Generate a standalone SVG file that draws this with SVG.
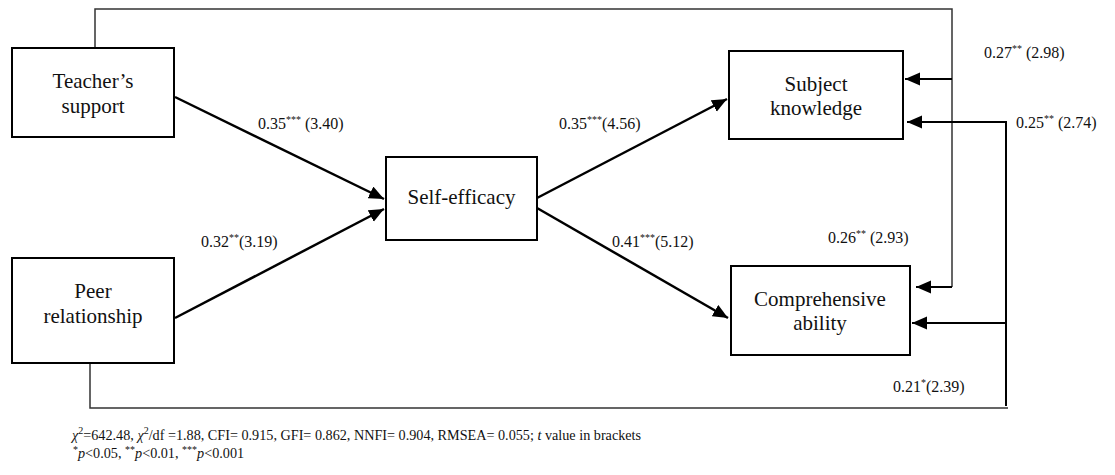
<svg xmlns="http://www.w3.org/2000/svg" width="1115" height="475" viewBox="0 0 1115 475">
<style>
text{font-family:'Liberation Serif','Times New Roman',serif;fill:#111}
.nt{font-size:21px;text-anchor:middle}
.lb{font-size:16px}
.cap{font-size:14.2px}
.sup{font-size:10px}
.box{fill:#fff;stroke:#000;stroke-width:2}
.arr{fill:none;stroke:#000;stroke-width:2.5;marker-end:url(#ah)}
.route{fill:none;stroke:#333;stroke-width:1.5}
.routeb{fill:none;stroke:#000;stroke-width:2}
</style>
<defs>
<marker id="ah" markerUnits="userSpaceOnUse" markerWidth="16" markerHeight="14" refX="15" refY="6.5" orient="auto">
<path d="M0,0 L15,6.5 L0,13 Z" fill="#000"/>
</marker>
</defs>
<rect width="1115" height="475" fill="#fff"/>
<g id="connectors">
<path class="route" d="M95,48 V9 H952 V287"/>
<path class="routeb" d="M952,287 H916" marker-end="url(#ah)"/>
<path class="routeb" d="M952,79 H905" marker-end="url(#ah)"/>
<path class="route" d="M90,363 V408 H1008"/>
<path class="routeb" d="M1006,406 V122 H907" marker-end="url(#ah)"/>
<path class="routeb" d="M1006,323 H912" marker-end="url(#ah)"/>
<line class="arr" x1="175" y1="97" x2="384" y2="199"/>
<line class="arr" x1="175" y1="318" x2="384" y2="209"/>
<line class="arr" x1="537" y1="198" x2="727" y2="99"/>
<line class="arr" x1="537" y1="208" x2="728" y2="318"/>
</g>
<g id="teacher">
<rect class="box" x="12" y="48" width="162" height="89"/>
<text class="nt" x="93" y="88">Teacher’s</text>
<text class="nt" x="93" y="113">support</text>
</g>
<g id="peer">
<rect class="box" x="12" y="258" width="162" height="105"/>
<text class="nt" x="93" y="298">Peer</text>
<text class="nt" x="93" y="323">relationship</text>
</g>
<g id="selfefficacy">
<rect class="box" x="386" y="157" width="151" height="83"/>
<text class="nt" x="461.5" y="204">Self-efficacy</text>
</g>
<g id="subject">
<rect class="box" x="729" y="51" width="174" height="88"/>
<text class="nt" x="816" y="91">Subject</text>
<text class="nt" x="816" y="115">knowledge</text>
</g>
<g id="comprehensive">
<rect class="box" x="731" y="266" width="179" height="89"/>
<text class="nt" x="820" y="306">Comprehensive</text>
<text class="nt" x="820" y="330">ability</text>
</g>
<g id="labels">
<text class="lb" x="258" y="129">0.35<tspan class="sup" dy="-6">***</tspan><tspan dy="6"> (3.40)</tspan></text>
<text class="lb" x="201" y="247">0.32<tspan class="sup" dy="-6">**</tspan><tspan dy="6">(3.19)</tspan></text>
<text class="lb" x="559" y="129">0.35<tspan class="sup" dy="-6">***</tspan><tspan dy="6">(4.56)</tspan></text>
<text class="lb" x="612" y="247">0.41<tspan class="sup" dy="-6">***</tspan><tspan dy="6">(5.12)</tspan></text>
<text class="lb" x="984" y="58">0.27<tspan class="sup" dy="-6">**</tspan><tspan dy="6"> (2.98)</tspan></text>
<text class="lb" x="1016" y="128">0.25<tspan class="sup" dy="-6">**</tspan><tspan dy="6"> (2.74)</tspan></text>
<text class="lb" x="828" y="243">0.26<tspan class="sup" dy="-6">**</tspan><tspan dy="6"> (2.93)</tspan></text>
<text class="lb" x="893" y="392">0.21<tspan class="sup" dy="-6">*</tspan><tspan dy="6">(2.39)</tspan></text>
</g>
<g id="caption">
<text class="cap" x="72" y="440"><tspan font-style="italic">χ</tspan><tspan class="sup" dy="-6">2</tspan><tspan dy="6">=642.48, </tspan><tspan font-style="italic">χ</tspan><tspan class="sup" dy="-6">2</tspan><tspan dy="6">/df =1.88, CFI= 0.915, GFI= 0.862, NNFI= 0.904, RMSEA= 0.055; </tspan><tspan font-style="italic">t</tspan><tspan> value in brackets</tspan></text>
<text class="cap" x="73" y="458"><tspan class="sup" dy="-5">*</tspan><tspan font-style="italic" dy="5">p</tspan><tspan>&lt;0.05, </tspan><tspan class="sup" dy="-5">**</tspan><tspan font-style="italic" dy="5">p</tspan><tspan>&lt;0.01, </tspan><tspan class="sup" dy="-5">***</tspan><tspan font-style="italic" dy="5">p</tspan><tspan>&lt;0.001</tspan></text>
</g>
</svg>
